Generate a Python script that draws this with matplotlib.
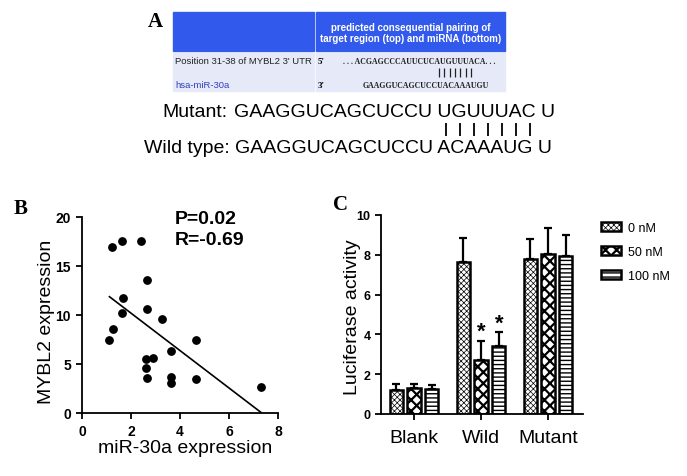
import numpy as np
import matplotlib.pyplot as plt
from matplotlib.patches import Rectangle

plt.rcParams['font.family'] = ['Liberation Sans', 'DejaVu Sans']

# panel B: miR-30a vs MYBL2 expression
mir30a = [1.22, 1.65, 2.39, 2.64, 1.66, 1.65, 1.28, 1.12, 2.64, 3.28,
          3.62, 4.65, 2.63, 2.91, 2.63, 2.64, 3.63, 3.63, 4.65, 7.29]
mybl2 = [16.9, 17.6, 17.6, 13.6, 11.7, 10.2, 8.6, 7.45, 10.6, 9.6,
         6.3, 7.4, 5.5, 5.6, 4.6, 3.6, 3.7, 3.06, 3.5, 2.65]
stats_text = ['P=0.02', 'R=-0.69']

# panel C: luciferase activity
groups = ['Blank', 'Wild', 'Mutant']
doses = ['0 nM', '50 nM', '100 nM']
luc_0 = [1.21, 7.64, 7.81]
luc_50 = [1.32, 2.73, 8.06]
luc_100 = [1.26, 3.41, 7.96]
err_0 = [0.31, 1.21, 0.96]
err_50 = [0.21, 0.95, 1.30]
err_100 = [0.19, 0.69, 1.01]
signif = [[False, True, False], [False, True, False]]  # 50 nM, 100 nM

# panel A text
mutant_seq = 'GAAGGUCAGCUCCU UGUUUAC U'
wild_seq = 'GAAGGUCAGCUCCU ACAAAUG U'
target_seq = '. . . ACGAGCCCAUUCUCAUGUUUACA. . .'
mirna_seq = 'GAAGGUCAGCUCCUACAAAUGU'


def set_hatch_lw(patch, lw):
    if hasattr(patch, 'set_hatch_linewidth'):
        patch.set_hatch_linewidth(lw)


def make_figure():
    fig = plt.figure(figsize=(6.87, 4.77), dpi=100)

    # ---------- panel A (drawn in pixel coords) ----------
    axA = fig.add_axes([0, 0, 1, 1])
    axA.set_xlim(0, 687)
    axA.set_ylim(477, 0)
    axA.axis('off')

    blue = '#3159ec'
    light = '#e6e9f8'
    axA.add_patch(Rectangle((173, 13), 141, 39, color=blue))
    axA.add_patch(Rectangle((316, 13), 189, 39, color=blue))
    axA.add_patch(Rectangle((173, 54), 141, 38, color=light))
    axA.add_patch(Rectangle((316, 54), 189, 38, color=light))
    axA.text(410.5, 28, 'predicted consequential pairing of', ha='center', va='center',
             color='white', fontsize=7, fontweight='bold')
    axA.text(410.5, 39, 'target region (top) and miRNA (bottom)', ha='center', va='center',
             color='white', fontsize=7, fontweight='bold')
    axA.text(175, 62, "Position 31-38 of MYBL2 3' UTR", ha='left', va='center',
             color='#222222', fontsize=6.8)
    axA.text(175, 86, 'hsa-miR-30a', ha='left', va='center', color='#3040c0', fontsize=6.8)
    axA.text(318, 62, "5'", ha='left', va='center', fontsize=6.5, family='Liberation Serif',
             fontweight='bold')
    axA.text(318, 86, "3'", ha='left', va='center', fontsize=6.5, family='Liberation Serif',
             fontweight='bold')
    axA.text(343, 62, target_seq, ha='left', va='center', fontsize=5.6,
             family='Liberation Serif', fontweight='bold', color='#222222')
    axA.text(363, 86, mirna_seq, ha='left', va='center', fontsize=5.6,
             family='Liberation Serif', fontweight='bold', color='#222222')
    axA.vlines(np.linspace(439, 471, 7), 69, 78, color='#222222', lw=0.9)

    axA.text(155, 22, 'A', ha='center', va='center', fontsize=15, fontweight='bold',
             family='Liberation Serif')
    axA.text(228, 117, 'Mutant:', ha='right', va='baseline', fontsize=14)
    axA.text(234, 117, mutant_seq, ha='left', va='baseline', fontsize=14)
    axA.text(230, 153, 'Wild type:', ha='right', va='baseline', fontsize=14)
    axA.text(235, 153, wild_seq, ha='left', va='baseline', fontsize=14)
    axA.vlines(np.linspace(446, 530, 7), 124, 137, color='black', lw=1.3)

    axA.text(21, 209, 'B', ha='center', va='center', fontsize=15, fontweight='bold',
             family='Liberation Serif')
    axA.text(340, 205, 'C', ha='center', va='center', fontsize=15, fontweight='bold',
             family='Liberation Serif')

    # ---------- panel B ----------
    axB = fig.add_axes([82 / 687, 63 / 477, 196 / 687, 196 / 477])
    axB.scatter(mir30a, mybl2, s=28, color='black', zorder=3)
    slope, intercept = np.polyfit(mir30a, mybl2, 1)
    xs = np.array([min(mir30a), max(mir30a)])
    axB.plot(xs, slope * xs + intercept, color='black', lw=1.2)
    axB.set_xlim(0, 8)
    axB.set_ylim(0, 20)
    axB.set_xticks([0, 2, 4, 6, 8])
    axB.set_yticks([0, 5, 10, 15, 20])
    axB.set_xlabel('miR-30a expression', fontsize=14)
    axB.set_ylabel('MYBL2 expression', fontsize=14)
    axB.xaxis.set_label_coords(0.525, -0.135)
    axB.yaxis.set_label_coords(-0.138, 0.47)
    axB.text(0.475, 0.97, stats_text[0], transform=axB.transAxes, fontsize=14,
             fontweight='bold', va='baseline')
    axB.text(0.475, 0.86, stats_text[1], transform=axB.transAxes, fontsize=14,
             fontweight='bold', va='baseline')

    # ---------- panel C ----------
    axC = fig.add_axes([381 / 687, 62 / 477, 202 / 687, 199 / 477])
    x = np.arange(len(groups))
    width = 0.195
    offset = 0.266
    series = [(luc_0, err_0, 'xxxxxx', 0.5),
              (luc_50, err_50, 'xxx', 1.6),
              (luc_100, err_100, '----', 1.0)]
    for i, (vals, errs, hatch, hlw) in enumerate(series):
        pos = x + (i - 1) * offset
        with plt.rc_context({'hatch.linewidth': hlw}):
            bars = axC.bar(pos, vals, width, color='white', edgecolor='black',
                           linewidth=1.8, hatch=hatch, label=doses[i], zorder=2)
            for b in bars:
                set_hatch_lw(b, hlw)
        axC.errorbar(pos, vals, yerr=[np.zeros(len(vals)), errs], fmt='none',
                     ecolor='black', elinewidth=1.6, capsize=3, capthick=1.6, zorder=1)
        if i > 0:
            for j in range(len(groups)):
                if signif[i - 1][j]:
                    axC.annotate('*', (pos[j], vals[j] + errs[j]), xytext=(0, -1),
                                 textcoords='offset points', ha='center', va='bottom',
                                 fontsize=16, fontweight='bold')
    axC.set_xlim(-0.493, 2.522)
    axC.set_ylim(0, 10)
    axC.set_xticks(x)
    axC.set_xticklabels(groups, fontsize=14)
    axC.set_yticks([0, 2, 4, 6, 8, 10])
    axC.set_ylabel('Luciferase activity', fontsize=14)
    axC.yaxis.set_label_coords(-0.1, 0.49)
    axC.tick_params(axis='x', pad=6)
    leg = axC.legend(loc='upper left', bbox_to_anchor=(601 / 687, 1 - 223 / 477),
                     bbox_transform=fig.transFigure, frameon=False, fontsize=9,
                     borderpad=0, borderaxespad=0, handlelength=1.6, handleheight=0.7,
                     handletextpad=0.6, labelspacing=0.95)
    for p, (_, _, _, hlw) in zip(leg.get_patches(), series):
        set_hatch_lw(p, hlw)

    for ax in (axB, axC):
        for side in ('top', 'right'):
            ax.spines[side].set_visible(False)
        for side in ('left', 'bottom'):
            ax.spines[side].set_linewidth(1.3)
        ax.tick_params(direction='out', length=4.5, width=1.3)
    for lab in axB.get_xticklabels() + axB.get_yticklabels():
        lab.set_fontweight('bold')
        lab.set_fontsize(10)
    for lab in axC.get_yticklabels():
        lab.set_fontweight('bold')
        lab.set_fontsize(9)
    axC.tick_params(axis='y', pad=3)

    fig.savefig('out.png', dpi=100)


if __name__ == "__main__":
    make_figure()
